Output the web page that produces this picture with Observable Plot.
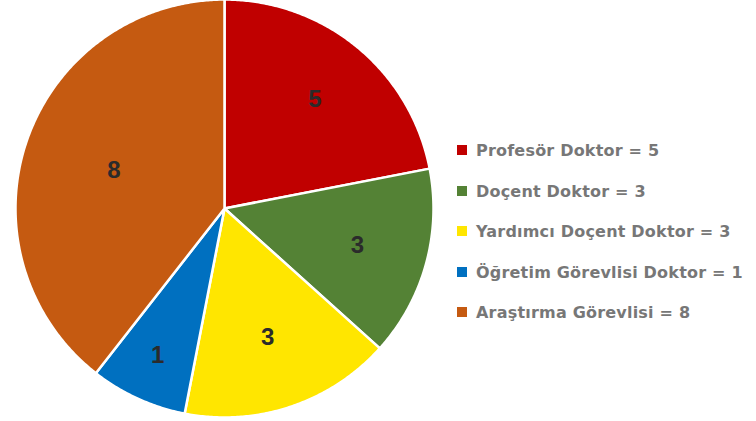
<!DOCTYPE html>
<html>
<head>
<meta charset="utf-8">
<script src="https://cdn.jsdelivr.net/npm/d3@7"></script>
<script src="https://cdn.jsdelivr.net/npm/@observablehq/plot@0.6"></script>
<style>
  html, body { margin: 0; padding: 0; background: #fff; }
  #wrap { position: relative; width: 756px; height: 421px; overflow: hidden; }
  #legend { position: absolute; left: 457px; top: 0; font-family: "Century Gothic", "DejaVu Sans", sans-serif; font-weight: bold; color: #777777; font-size: 16px; letter-spacing: 0.2px; }
  .item { position: absolute; left: 0; white-space: nowrap; display: flex; align-items: center; height: 20px; }
  .sw { width: 10px; height: 10px; margin-right: 9px; flex: none; }
</style>
</head>
<body>
<div id="wrap"><div id="chart"></div><div id="legend"></div></div>
<script>
// Data
const categories = ["Profesör Doktor", "Doçent Doktor", "Yardımcı Doçent Doktor", "Öğretim Görevlisi Doktor", "Araştırma Görevlisi"];
const counts = [5, 3, 3, 1, 8];
// slice sizes as drawn in the picture (degrees of arc)
const sliceDegrees = [79, 53, 59, 27, 142];
const colors = ["#C00000", "#548235", "#FFE600", "#0070C0", "#C55A11"];

// Layout
const labelRadius = [0.68, 0.66, 0.65, 0.77, 0.56];
const legendTop = [140, 181, 221, 262, 302];

const pie = d3.pie().sort(null).value(d => d.deg).startAngle(0).endAngle(2 * Math.PI);
const rows = categories.map((c, i) => ({cat: c, count: counts[i], deg: sliceDegrees[i], i}));
const arcs = pie(rows);

const pts = [];
arcs.forEach(a => {
  pts.push({cat: a.data.cat, x: 0, y: 0});
  const n = Math.max(2, Math.ceil((a.endAngle - a.startAngle) / (Math.PI / 360)));
  for (let k = 0; k <= n; k++) {
    const t = a.startAngle + (a.endAngle - a.startAngle) * k / n;
    pts.push({cat: a.data.cat, x: Math.sin(t), y: Math.cos(t)});
  }
});
const labels = arcs.map((a, i) => {
  const m = (a.startAngle + a.endAngle) / 2;
  return {x: Math.sin(m) * labelRadius[i], y: Math.cos(m) * labelRadius[i], text: String(a.data.count)};
});

const chart = Plot.plot({
  width: 756,
  height: 421,
  margin: 0,
  x: {domain: [-1, 1], range: [15, 433], axis: null},
  y: {domain: [-1, 1], range: [417, -1], axis: null},
  color: {domain: categories, range: colors},
  style: {background: "white"},
  marks: [
    Plot.line(pts, {x: "x", y: "y", z: "cat", fill: "cat", stroke: "white", strokeWidth: 2.5, curve: "linear-closed", strokeLinejoin: "round"}),
    Plot.text(labels, {x: "x", y: "y", text: "text", fontSize: 24, fontWeight: "bold", fill: "#2b2b2b", fontFamily: "Liberation Sans, Arial, sans-serif"})
  ]
});
document.getElementById("chart").appendChild(chart);

const legend = document.getElementById("legend");
categories.forEach((c, i) => {
  const it = document.createElement("div");
  it.className = "item";
  it.style.top = legendTop[i] + "px";
  const sw = document.createElement("span");
  sw.className = "sw";
  sw.style.background = colors[i];
  const tx = document.createElement("span");
  tx.textContent = c + " = " + counts[i];
  it.appendChild(sw); it.appendChild(tx);
  legend.appendChild(it);
});
</script>
</body>
</html>
